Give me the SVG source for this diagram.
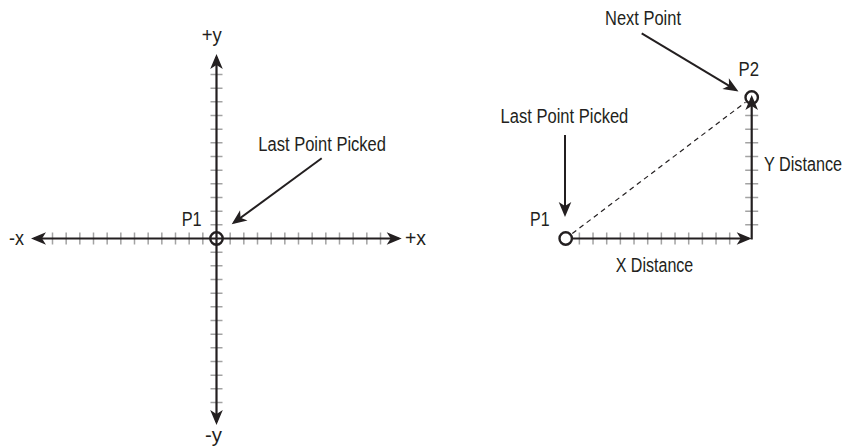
<svg xmlns="http://www.w3.org/2000/svg" width="848" height="448" viewBox="0 0 848 448">
<style>
text{font-family:"Liberation Sans",Arial,sans-serif;font-size:20px;fill:#231f20}
.tick{stroke:#a3a3a3;stroke-width:1.5;fill:none}
.axis{stroke:#231f20;stroke-width:2.2;fill:none}
.ptr{stroke:#231f20;stroke-width:2;fill:none}
.dash{stroke:#231f20;stroke-width:1.2;stroke-dasharray:5 4;fill:none}
.pt{stroke:#231f20;stroke-width:2.4;fill:none}
.ptw{stroke:#231f20;stroke-width:2.4;fill:#fff}
</style>
<defs>
<marker id="ah" viewBox="-13 -7 17 14" refX="0" refY="0" markerWidth="17" markerHeight="14" markerUnits="userSpaceOnUse" orient="auto">
<path d="M3,0 L-12,-6.3 L-8,0 L-12,6.3 Z" fill="#231f20"/>
</marker>
</defs>
<rect width="848" height="448" fill="#fff"/>

<g id="left-grid">
<path class="tick" d="M52.5,232.5V244.5M66.17,232.5V244.5M79.83,232.5V244.5M93.5,232.5V244.5M107.17,232.5V244.5M120.83,232.5V244.5M134.5,232.5V244.5M148.17,232.5V244.5M161.83,232.5V244.5M175.5,232.5V244.5M189.17,232.5V244.5M202.83,232.5V244.5M230.17,232.5V244.5M243.83,232.5V244.5M257.5,232.5V244.5M271.17,232.5V244.5M284.83,232.5V244.5M298.5,232.5V244.5M312.17,232.5V244.5M325.83,232.5V244.5M339.5,232.5V244.5M353.17,232.5V244.5M366.83,232.5V244.5M380.5,232.5V244.5"/>
<path class="tick" d="M210.5,74.5H222.5M210.5,88.17H222.5M210.5,101.83H222.5M210.5,115.5H222.5M210.5,129.17H222.5M210.5,142.83H222.5M210.5,156.5H222.5M210.5,170.17H222.5M210.5,183.83H222.5M210.5,197.5H222.5M210.5,211.17H222.5M210.5,224.83H222.5M210.5,252.17H222.5M210.5,265.83H222.5M210.5,279.5H222.5M210.5,293.17H222.5M210.5,306.83H222.5M210.5,320.5H222.5M210.5,334.17H222.5M210.5,347.83H222.5M210.5,361.5H222.5M210.5,375.17H222.5M210.5,388.83H222.5M210.5,402.5H222.5"/>
</g>

<g id="connectors">
<path class="axis" d="M216.5,238.5H34" marker-end="url(#ah)"/>
<path class="axis" d="M216.5,238.5H398.7" marker-end="url(#ah)"/>
<path class="axis" d="M216.5,238.5V57" marker-end="url(#ah)"/>
<path class="axis" d="M216.5,238.5V422" marker-end="url(#ah)"/>
<path class="ptr" d="M321.7,158.3L234.1,222.5" marker-end="url(#ah)"/>
<path class="ptr" d="M641.7,33.3L735.9,89.9" marker-end="url(#ah)"/>
<path class="ptr" d="M565,135V214" marker-end="url(#ah)"/>
<path class="dash" d="M572.3,233.5L745.5,102.2"/>
<path class="tick" d="M579.37,232.5V244.5M593.03,232.5V244.5M606.7,232.5V244.5M620.37,232.5V244.5M634.03,232.5V244.5M647.7,232.5V244.5M661.37,232.5V244.5M675.03,232.5V244.5M688.7,232.5V244.5M702.37,232.5V244.5M716.03,232.5V244.5M729.7,232.5V244.5"/>
<path class="tick" d="M745.2,224.83H758.2M745.2,211.17H758.2M745.2,197.5H758.2M745.2,183.83H758.2M745.2,170.17H758.2M745.2,156.5H758.2M745.2,142.83H758.2M745.2,129.17H758.2M745.2,115.5H758.2"/>
<path class="axis" d="M571.7,238.5H748.7" marker-end="url(#ah)"/>
<path class="axis" d="M751.7,239.5V98" marker-end="url(#ah)"/>
</g>

<g id="p1-left">
<circle class="pt" cx="216.5" cy="238.5" r="6.2"/>
<text x="181.7" y="226" textLength="20" lengthAdjust="spacingAndGlyphs">P1</text>
</g>
<g id="label-plus-y"><text x="201.7" y="41.5" textLength="20" lengthAdjust="spacingAndGlyphs">+y</text></g>
<g id="label-minus-y"><text x="205" y="442" textLength="17" lengthAdjust="spacingAndGlyphs">-y</text></g>
<g id="label-minus-x"><text x="9" y="245" textLength="15" lengthAdjust="spacingAndGlyphs">-x</text></g>
<g id="label-plus-x"><text x="405" y="245" textLength="21" lengthAdjust="spacingAndGlyphs">+x</text></g>
<g id="label-last-left"><text x="258.3" y="150.5" textLength="127.7" lengthAdjust="spacingAndGlyphs">Last Point Picked</text></g>

<g id="p1-right">
<circle class="ptw" cx="565.7" cy="238.5" r="6.2"/>
<text x="530" y="226" textLength="19.5" lengthAdjust="spacingAndGlyphs">P1</text>
</g>
<g id="p2">
<circle class="pt" cx="751.7" cy="97.5" r="6.2"/>
<text x="738.6" y="76" textLength="20.5" lengthAdjust="spacingAndGlyphs">P2</text>
</g>
<g id="label-next"><text x="605" y="25" textLength="76" lengthAdjust="spacingAndGlyphs">Next Point</text></g>
<g id="label-last-right"><text x="500.6" y="123" textLength="127.7" lengthAdjust="spacingAndGlyphs">Last Point Picked</text></g>
<g id="label-xdist"><text x="615.7" y="271.5" textLength="77.6" lengthAdjust="spacingAndGlyphs">X Distance</text></g>
<g id="label-ydist"><text transform="translate(764,170.5) scale(0.81,1)">Y Distance</text></g>
</svg>
